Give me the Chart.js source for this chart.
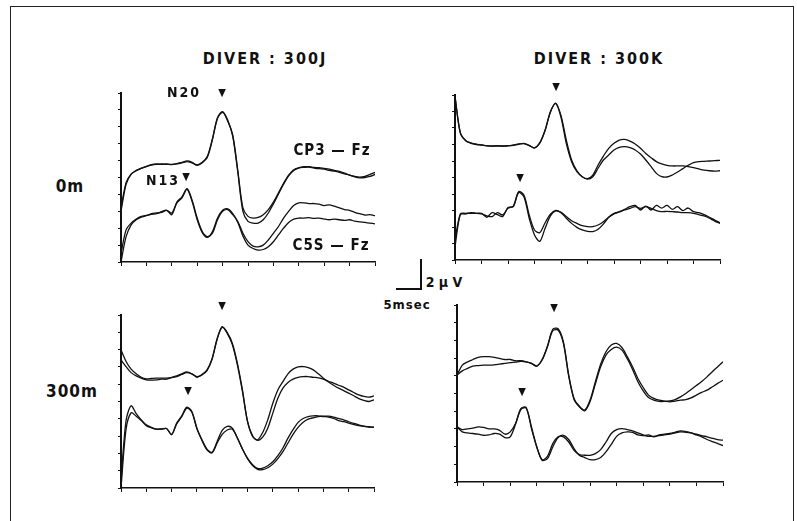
<!DOCTYPE html>
<html>
<head>
<meta charset="utf-8">
<script src="https://cdn.jsdelivr.net/npm/chart.js@4.4.0/dist/chart.umd.min.js"></script>
<style>
	body { margin:0; width:797px; height:521px; background:#fff; position:relative; overflow:hidden;
		font-family:"DejaVu Sans Condensed","DejaVu Sans",sans-serif; font-stretch:condensed; font-weight:bold; color:#111; }
	#frame { position:absolute; left:10px; top:6px; width:782px; height:540px; border:1.5px solid #222; }
	.panel { position:absolute; }
	.txt { position:absolute; transform:translate(-50%,-50%); white-space:nowrap; }
	.tri { position:absolute; transform:translate(-50%,-50%); font-size:11px; font-family:"DejaVu Sans",sans-serif; }
	.bar { position:absolute; background:#111; }
</style>
</head>
<body>
<div id="frame"></div>

<div class="panel" style="left:118px;top:89px;width:261px;height:177px"><canvas id="p1"></canvas></div>
<div class="panel" style="left:452px;top:91px;width:272px;height:173px"><canvas id="p2"></canvas></div>
<div class="panel" style="left:118px;top:311px;width:260px;height:181px"><canvas id="p3"></canvas></div>
<div class="panel" style="left:454px;top:301px;width:273px;height:185px"><canvas id="p4"></canvas></div>

<div class="txt" style="left:265px;top:58px;font-size:16px;letter-spacing:2px">DIVER : 300J</div>
<div class="txt" style="left:599px;top:58px;font-size:16px;letter-spacing:2px">DIVER : 300K</div>
<div class="txt" style="left:70px;top:186px;font-size:17px;letter-spacing:1px">0m</div>
<div class="txt" style="left:72px;top:391px;font-size:17px;letter-spacing:1px">300m</div>
<div class="txt" style="left:184px;top:92px;font-size:14px;letter-spacing:2px">N20</div>
<div class="txt" style="left:163px;top:180px;font-size:14px;letter-spacing:2px">N13</div>
<div class="txt" style="left:332px;top:150px;font-size:15px;letter-spacing:1px">CP3 — Fz</div>
<div class="txt" style="left:331px;top:245px;font-size:15px;letter-spacing:1px">C5S — Fz</div>

<div class="tri" style="left:222px;top:92px">▼</div>
<div class="tri" style="left:186px;top:176px">▼</div>
<div class="tri" style="left:556px;top:86px">▼</div>
<div class="tri" style="left:520px;top:177px">▼</div>
<div class="tri" style="left:222px;top:305px">▼</div>
<div class="tri" style="left:188px;top:390px">▼</div>
<div class="tri" style="left:554px;top:307px">▼</div>
<div class="tri" style="left:522px;top:391px">▼</div>

<!-- calibration bar -->
<div class="bar" style="left:420px;top:259px;width:1.5px;height:30px"></div>
<div class="bar" style="left:396px;top:288px;width:25.5px;height:1.5px"></div>
<div class="txt" style="left:444px;top:282px;font-size:14px">2 μ V</div>
<div class="txt" style="left:407px;top:304px;font-size:13px;letter-spacing:1px">5msec</div>

<script>
// latency axis (msec) shared by every trace
const times = [0,1,2,3,4,5,6,7,8,9,10,11,12,13,14,15,16,17,18,19,20,
	21,22,23,24,25,26,27,28,29,30,31,32,33,34,35,36,37,38,39,40,
	41,42,43,44,45,46,47,48,49,50];
const xTicks = [0,5,10,15,20,25,30,35,40,45,50];
const yTicks = [0,1,2,3,4,5,6,7,8,9,10];

// DIVER 300J, 0m
const p1Cp3a = [3.2,4.7,5.2,5.4,5.54,5.66,5.74,5.78,5.8,5.78,5.78,5.8,5.86,5.94,5.86,5.74,5.9,6.26,7.3,8.54,8.9,
	8.34,7.5,5.4,3.2,2.7,2.6,2.64,2.8,3.1,3.54,4.1,4.66,5.14,5.46,5.58,5.64,5.64,5.6,5.58,5.54,
	5.5,5.42,5.36,5.26,5.14,5.06,5.02,5.06,5.18,5.3];
const p1Cp3b = [3.0,4.6,5.2,5.42,5.56,5.64,5.76,5.8,5.78,5.8,5.76,5.82,5.9,5.98,5.9,5.72,5.88,6.2,7.24,8.5,8.86,
	8.4,7.44,5.3,3.0,2.4,2.3,2.3,2.5,2.9,3.44,4.02,4.6,5.1,5.42,5.56,5.6,5.62,5.56,5.52,5.5,
	5.42,5.38,5.3,5.22,5.14,5.04,4.98,5.0,5.06,5.18];
const p1C5sa = [0.5,1.9,2.3,2.54,2.7,2.76,2.82,2.86,2.98,3.06,2.8,3.54,3.86,4.34,3.66,2.6,1.8,1.5,1.7,2.5,3.0,
	3.1,2.8,2.4,1.7,1.2,0.94,0.9,1.0,1.3,1.7,2.1,2.6,3.0,3.34,3.5,3.5,3.46,3.46,3.42,3.34,
	3.38,3.3,3.2,3.1,3.06,2.94,2.86,2.78,2.8,2.74];
const p1C5sb = [0.0,1.5,2.2,2.5,2.66,2.74,2.86,2.9,2.94,3.06,2.9,3.5,3.8,4.3,3.58,2.5,1.74,1.46,1.8,2.6,3.06,
	3.14,2.86,2.34,1.54,1.0,0.8,0.7,0.74,0.9,1.2,1.6,2.0,2.34,2.54,2.6,2.6,2.62,2.58,2.6,2.54,
	2.5,2.54,2.5,2.46,2.5,2.42,2.38,2.34,2.3,2.26];

// DIVER 300K, 0m
const p2Cp3a = [9.9,7.72,7.23,7.07,7.0,6.97,6.93,6.91,6.91,6.91,6.93,6.95,7.01,7.07,6.95,6.79,7.11,7.88,8.99,9.49,8.65,
	7.07,5.96,5.35,5.05,4.93,5.15,5.76,6.3,6.77,7.07,7.27,7.31,7.21,7.03,6.77,6.46,6.2,5.96,5.82,5.74,
	5.7,5.7,5.7,5.66,5.6,5.52,5.45,5.41,5.39,5.41];
const p2Cp3b = [9.9,7.7,7.25,7.1,7.02,6.98,6.92,6.9,6.93,6.9,6.92,6.97,7.03,7.05,6.93,6.8,7.08,7.84,8.95,9.5,8.75,
	7.27,6.06,5.41,5.05,4.91,5.05,5.56,6.06,6.36,6.67,6.83,6.87,6.81,6.67,6.42,6.06,5.66,5.25,5.05,5.03,
	5.15,5.33,5.54,5.74,5.9,5.96,5.98,6.0,6.02,6.04];
const p2C5sa = [1.21,2.79,2.83,2.83,2.83,2.79,2.67,2.63,2.87,2.73,3.13,3.27,4.14,3.94,2.73,1.82,1.66,2.26,2.77,3.01,2.89,
	2.63,2.38,2.22,2.08,2.02,2.02,2.12,2.32,2.59,2.79,2.91,3.03,3.13,3.23,3.13,3.23,3.13,2.99,2.93,2.95,
	2.93,2.91,2.87,2.87,2.83,2.75,2.67,2.53,2.36,2.22];
const p2C5sb = [0.81,2.75,2.79,2.87,2.83,2.83,2.59,2.87,2.75,2.63,3.19,3.23,4.08,3.84,2.53,1.52,1.13,1.92,2.67,2.97,2.87,
	2.53,2.22,1.98,1.82,1.74,1.72,1.86,2.18,2.59,2.83,2.93,3.07,3.23,3.31,3.03,3.27,3.03,3.31,3.15,3.31,
	3.07,3.23,2.99,3.15,2.93,2.87,2.75,2.59,2.42,2.26];

// DIVER 300J, 300m
const p3Cp3a = [7.98,7.31,6.87,6.6,6.4,6.31,6.33,6.35,6.35,6.35,6.38,6.44,6.56,6.67,6.6,6.44,6.54,6.79,7.44,8.6,9.29,
	8.98,8.37,7.21,5.67,3.85,2.98,2.79,3.21,3.94,4.9,5.67,6.15,6.6,6.87,7.0,7.02,6.96,6.83,6.6,6.35,
	6.13,5.94,5.77,5.63,5.48,5.33,5.17,5.06,5.0,5.1];
const p3Cp3b = [7.4,7.02,6.67,6.48,6.35,6.25,6.23,6.25,6.29,6.29,6.4,6.48,6.6,6.71,6.6,6.4,6.56,6.83,7.48,8.63,9.33,
	8.94,8.29,7.12,5.58,3.85,3.02,2.75,2.94,3.46,4.33,5.19,5.77,6.1,6.29,6.4,6.44,6.44,6.4,6.37,6.29,
	6.17,6.06,5.94,5.83,5.67,5.52,5.38,5.29,5.25,5.33];
const p3C5sa = [0.4,3.9,4.75,4.3,3.94,3.65,3.5,3.4,3.4,3.44,3.08,3.75,4.17,4.67,4.42,3.46,2.79,2.25,2.06,2.69,3.33,
	3.56,3.46,2.88,2.25,1.73,1.35,1.13,1.15,1.29,1.52,1.87,2.31,2.88,3.37,3.79,4.02,4.13,4.17,4.17,4.13,
	4.1,4.02,3.9,3.83,3.75,3.67,3.6,3.56,3.52,3.52];
const p3C5sb = [0.0,3.4,4.35,4.15,3.9,3.6,3.48,3.4,3.42,3.44,3.1,3.7,4.12,4.62,4.38,3.42,2.75,2.2,2.04,2.6,3.1,
	3.35,3.4,2.9,2.25,1.69,1.3,1.08,1.06,1.17,1.38,1.7,2.1,2.6,3.1,3.5,3.8,3.98,4.06,4.12,4.15,
	4.15,4.1,4.02,3.94,3.83,3.73,3.65,3.58,3.54,3.5];

// DIVER 300K, 300m
const p4Cp3a = [6.04,6.6,6.79,6.92,7.04,7.08,7.08,7.04,6.98,6.92,6.92,6.85,6.85,6.79,6.7,6.55,6.92,7.68,8.62,8.66,7.92,
	6.04,4.72,4.28,4.06,4.62,5.66,6.66,7.36,7.74,7.83,7.6,7.08,6.51,5.85,5.34,4.91,4.72,4.62,4.57,4.53,
	4.57,4.62,4.66,4.75,4.91,5.06,5.19,5.38,5.57,5.75];
const p4Cp3b = [6.04,6.28,6.42,6.55,6.58,6.6,6.6,6.62,6.66,6.7,6.74,6.77,6.81,6.79,6.7,6.55,6.89,7.64,8.55,8.58,7.83,
	5.98,4.66,4.25,4.02,4.53,5.53,6.51,7.17,7.49,7.62,7.45,6.96,6.36,5.66,5.15,4.77,4.62,4.55,4.55,4.58,
	4.66,4.81,5.0,5.23,5.45,5.68,5.94,6.23,6.51,6.79];
const p4C5sa = [3.11,2.96,3.0,3.04,3.11,3.08,3.0,3.0,2.92,2.7,2.83,3.3,4.15,4.21,3.02,1.98,1.26,1.45,2.17,2.55,2.55,
	2.26,1.79,1.55,1.51,1.51,1.6,1.83,2.26,2.74,2.96,3.02,2.96,2.89,2.77,2.66,2.58,2.58,2.62,2.66,2.7,
	2.77,2.83,2.81,2.77,2.7,2.62,2.55,2.47,2.4,2.36];
const p4C5sb = [3.11,2.83,2.77,2.74,2.7,2.64,2.66,2.74,2.7,2.51,2.55,3.26,4.09,4.17,3.11,1.98,1.23,1.32,1.98,2.51,2.64,
	2.4,1.89,1.51,1.38,1.26,1.26,1.38,1.7,2.13,2.58,2.77,2.83,2.81,2.66,2.62,2.66,2.55,2.66,2.7,2.74,
	2.81,2.89,2.85,2.77,2.66,2.55,2.4,2.28,2.17,2.06];

function trace(values){
	return {
		data: times.map((t, i) => ({x: t, y: values[i]})),
		borderColor: '#111',
		borderWidth: 1.3,
		pointRadius: 0,
		tension: 0.3,
		fill: false
	};
}

function drawPanel(id, series){
	return new Chart(document.getElementById(id), {
		type: 'line',
		data: { datasets: series.map(trace) },
		options: {
			responsive: true,
			maintainAspectRatio: false,
			animation: false,
			layout: { padding: { top: 4, right: 4, left: 0, bottom: 0 } },
			plugins: { legend: { display: false }, tooltip: { enabled: false } },
			scales: {
				x: {
					type: 'linear',
					min: xTicks[0], max: xTicks[xTicks.length - 1],
					afterBuildTicks: (s) => { s.ticks = xTicks.map(v => ({value: v})); },
					ticks: { display: false },
					grid: { drawOnChartArea: false, tickLength: 4, color: '#111', lineWidth: 1 },
					border: { color: '#111', width: 1.5 }
				},
				y: {
					min: yTicks[0], max: yTicks[yTicks.length - 1],
					afterBuildTicks: (s) => { s.ticks = yTicks.map(v => ({value: v})); },
					ticks: { display: false },
					grid: { drawOnChartArea: false, tickLength: 3, color: '#111', lineWidth: 1 },
					border: { color: '#111', width: 2 }
				}
			}
		}
	});
}

drawPanel('p1', [p1Cp3a, p1Cp3b, p1C5sa, p1C5sb]);
drawPanel('p2', [p2Cp3a, p2Cp3b, p2C5sa, p2C5sb]);
drawPanel('p3', [p3Cp3a, p3Cp3b, p3C5sa, p3C5sb]);
drawPanel('p4', [p4Cp3a, p4Cp3b, p4C5sa, p4C5sb]);
</script>
</body>
</html>
